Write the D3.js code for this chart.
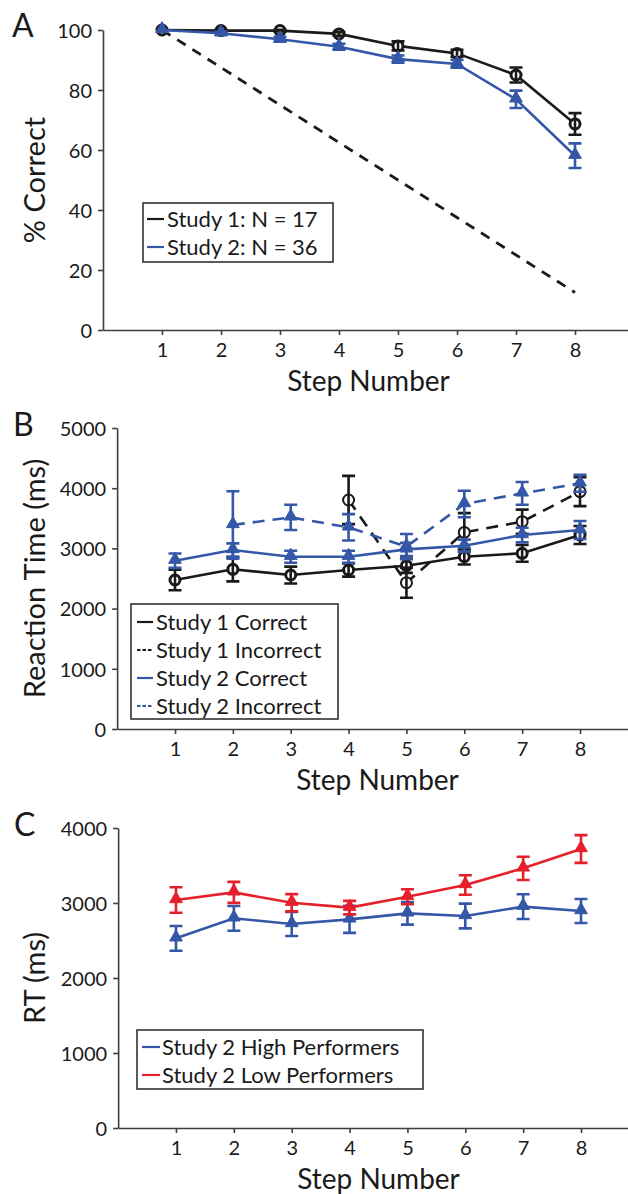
<!DOCTYPE html>
<html><head><meta charset="utf-8">
<script src="https://cdn.jsdelivr.net/npm/d3@7/dist/d3.min.js"></script>
<style>
html,body{margin:0;padding:0;background:#fff;}
svg text{font-family:Lato,"Open Sans",sans-serif;fill:#1a1a1a;}
</style></head>
<body><svg id="c" width="628" height="1194"></svg>
<script>
// ---------- DATA ----------
const steps = [1, 2, 3, 4, 5, 6, 7, 8];

// Panel A: % correct
const aStudy1 = [100, 99.8, 99.8, 98.7, 94.7, 92.2, 85.0, 68.7];
const aStudy1Err = [0, 0.3, 0.3, 0.6, 1.5, 1.2, 2.5, 3.6];
const aStudy2 = [100, 98.9, 96.9, 94.4, 90.3, 88.7, 76.9, 58.1];
const aStudy2Err = [0, 0.5, 0.8, 1.0, 1.2, 1.3, 2.9, 4.1];
const aChance = [100, 87.5, 75, 62.5, 50, 37.5, 25, 12.5];
const aTicks = [0, 20, 40, 60, 80, 100];
const aLegend = ["Study 1: N = 17", "Study 2: N = 36"];

// Panel B: reaction time (ms)
const b1Correct = [2475, 2653, 2558, 2641, 2713, 2862, 2918, 3223];
const b1CorrectErr = [170, 200, 140, 110, 120, 130, 140, 150];
const b1Incorrect = [null, null, null, 3804, 2430, 3266, 3444, 3942];
const b1IncorrectErr = [null, null, null, 400, 250, 320, 200, 240];
const b2Correct = [2796, 2973, 2862, 2862, 2984, 3045, 3223, 3306];
const b2CorrectErr = [120, 110, 100, 100, 110, 100, 120, 150];
const b2Incorrect = [null, 3389, 3516, 3350, 3029, 3738, 3914, 4081];
const b2IncorrectErr = [null, 560, 210, 220, 210, 220, 190, 140];
const bTicks = [0, 1000, 2000, 3000, 4000, 5000];
const bLegend = ["Study 1 Correct", "Study 1 Incorrect", "Study 2 Correct", "Study 2 Incorrect"];

// Panel C: RT (ms)
const cHigh = [2529, 2796, 2720, 2782, 2862, 2827, 2951, 2893];
const cHighErr = [165, 165, 160, 180, 150, 165, 165, 160];
const cLow = [3040, 3142, 3004, 2938, 3084, 3240, 3462, 3720];
const cLowErr = [170, 140, 115, 90, 100, 130, 155, 185];
const cTicks = [0, 1000, 2000, 3000, 4000];
const cLegend = ["Study 2 High Performers", "Study 2 Low Performers"];

// ---------- STYLE ----------
const BLACK = "#1a1a1a", BLUE = "#3557a7", RED = "#e5202a", AXIS = "#3e3e3e";
const svg = d3.select("#c");

function panel(cfg) {
  const g = svg.append("g");
  const x = d3.scaleLinear().domain([0, 9]).range([cfg.x1 - cfg.step, cfg.x1 + 8 * cfg.step]);
  const y = d3.scaleLinear().domain([0, cfg.ymax]).range([cfg.y0, cfg.ytop]);
  const ax = g.append("g").attr("transform", `translate(0,${cfg.y0})`)
    .call(d3.axisBottom(x).tickValues(steps).tickSize(5).tickSizeOuter(0).tickPadding(5).tickFormat(d3.format("d")));
  const ay = g.append("g").attr("transform", `translate(${x(0)},0)`)
    .call(d3.axisLeft(y).tickValues(cfg.ticks).tickSize(5).tickSizeOuter(0).tickPadding(6).tickFormat(d3.format("d")));
  [ax, ay].forEach(a => {
    a.select(".domain").attr("stroke", AXIS).attr("stroke-width", 1.6);
    a.selectAll(".tick line").attr("stroke", AXIS).attr("stroke-width", 1.6);
    a.selectAll(".tick text").attr("font-size", 20).attr("fill", BLACK)
      .style("font-family", "Lato, sans-serif");
  });
  ax.selectAll(".tick text").attr("dy", "0.85em");
  ay.selectAll(".tick text").attr("dy", "0.36em");

  // labels
  g.append("text").attr("x", cfg.lx).attr("y", cfg.ly).attr("font-size", 32).text(cfg.letter);
  g.append("text").attr("text-anchor", "middle").attr("font-size", 29)
    .attr("transform", `translate(${cfg.ytx},${(cfg.y0 + cfg.ytop) / 2}) rotate(-90)`).text(cfg.ytitle);
  g.append("text").attr("text-anchor", "middle").attr("font-size", 28)
    .attr("x", (x(1) + x(8)) / 2).attr("y", cfg.y0 + 61).text("Step Number");

  // series
  cfg.series.forEach(s => {
    const pts = steps.map((st, i) => ({ st, v: s.values[i], e: s.err ? s.err[i] : null })).filter(d => d.v != null);
    const line = d3.line().x(d => x(d.st)).y(d => y(d.v));
    g.append("path").datum(pts).attr("d", line).attr("fill", "none")
      .attr("stroke", s.color).attr("stroke-width", s.width || 2.6)
      .attr("stroke-dasharray", s.dash || null);
    if (!s.marker) return;
    if (s.marker === "circle") {
      g.selectAll(null).data(pts).enter().append("circle")
        .attr("cx", d => x(d.st)).attr("cy", d => y(d.v)).attr("r", s.open ? 5.5 : 5)
        .attr("fill", "#fff").attr("stroke", s.color).attr("stroke-width", s.open ? 2 : 3);
    } else {
      const tri = d3.symbol().type(d3.symbolTriangle).size(70);
      g.selectAll(null).data(pts).enter().append("path")
        .attr("d", tri).attr("transform", d => `translate(${x(d.st)},${y(d.v) - 1})`)
        .attr("fill", s.color).attr("stroke", s.color).attr("stroke-width", 1);
    }
    const eb = pts.filter(d => d.e);
    const cap = 6.5;
    g.selectAll(null).data(eb).enter().append("path")
      .attr("d", d => {
        const xx = x(d.st), t = y(d.v + d.e), b = y(d.v - d.e);
        return `M${xx},${t}V${b}M${xx - cap},${t}H${xx + cap}M${xx - cap},${b}H${xx + cap}`;
      })
      .attr("fill", "none").attr("stroke", s.color).attr("stroke-width", 2.6);
  });

  // legend
  const L = cfg.legend;
  g.append("rect").attr("x", L.x).attr("y", L.y).attr("width", L.w).attr("height", L.h)
    .attr("fill", "#fff").attr("stroke", "#333").attr("stroke-width", 1.6);
  L.items.forEach((it, i) => {
    const cy = L.y + L.first + i * 28;
    g.append("line").attr("x1", L.x + L.sx).attr("x2", L.x + L.sx + L.sw)
      .attr("y1", cy).attr("y2", cy).attr("stroke", it.color).attr("stroke-width", 2.2)
      .attr("stroke-dasharray", it.dash ? "3.5,2" : null);
    g.append("text").attr("x", L.x + L.tx).attr("y", cy + 7.5).attr("font-size", 22).text(it.label);
  });
}

panel({
  letter: "A", lx: 12, ly: 37, ytitle: "% Correct", ytx: 45,
  x1: 162, step: 59, y0: 330, ytop: 30, ymax: 100, ticks: aTicks,
  series: [
    { values: aChance, color: BLACK, dash: "10,8", width: 2.8 },
    { values: aStudy1, err: aStudy1Err, color: BLACK, marker: "circle" },
    { values: aStudy2, err: aStudy2Err, color: BLUE, marker: "tri" }
  ],
  legend: { x: 143, y: 203, w: 190, h: 59, first: 16, sx: 4, sw: 17, tx: 24,
    items: [{ label: aLegend[0], color: BLACK }, { label: aLegend[1], color: BLUE }] }
});

panel({
  letter: "B", lx: 13, ly: 436, ytitle: "Reaction Time (ms)", ytx: 45,
  x1: 175, step: 57.86, y0: 729, ytop: 428, ymax: 5000, ticks: bTicks,
  series: [
    { values: b1Correct, err: b1CorrectErr, color: BLACK, marker: "circle" },
    { values: b1Incorrect, err: b1IncorrectErr, color: BLACK, marker: "circle", open: true, dash: "12,8" },
    { values: b2Correct, err: b2CorrectErr, color: BLUE, marker: "tri" },
    { values: b2Incorrect, err: b2IncorrectErr, color: BLUE, marker: "tri", dash: "12,8" }
  ],
  legend: { x: 131, y: 604, w: 207, h: 115, first: 18, sx: 6, sw: 16, tx: 25,
    items: [{ label: bLegend[0], color: BLACK }, { label: bLegend[1], color: BLACK, dash: true },
            { label: bLegend[2], color: BLUE }, { label: bLegend[3], color: BLUE, dash: true }] }
});

panel({
  letter: "C", lx: 14, ly: 836, ytitle: "RT (ms)", ytx: 45,
  x1: 176, step: 57.86, y0: 1128, ytop: 828, ymax: 4000, ticks: cTicks,
  series: [
    { values: cHigh, err: cHighErr, color: BLUE, marker: "tri" },
    { values: cLow, err: cLowErr, color: RED, marker: "tri" }
  ],
  legend: { x: 137, y: 1030, w: 286, h: 59, first: 17, sx: 5, sw: 18, tx: 25,
    items: [{ label: cLegend[0], color: BLUE }, { label: cLegend[1], color: RED }] }
});
</script></body></html>
